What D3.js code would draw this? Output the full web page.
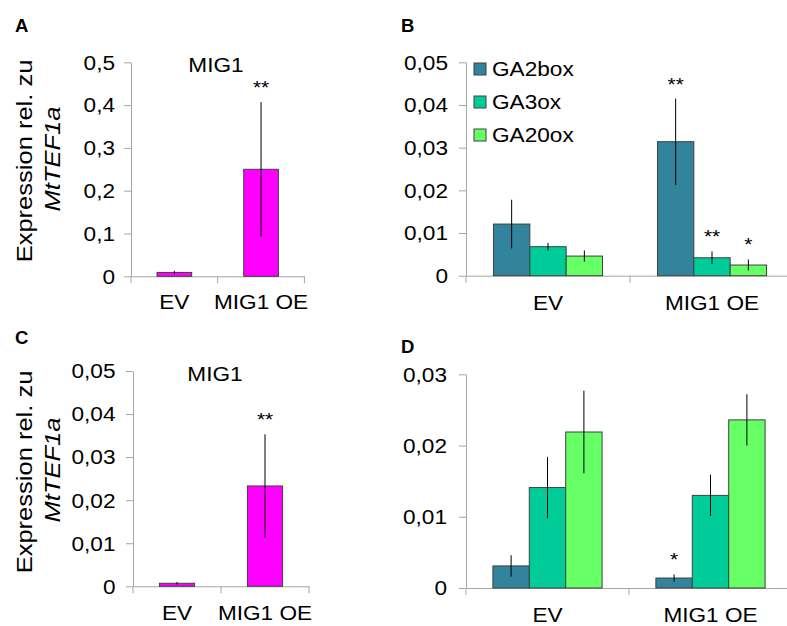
<!DOCTYPE html>
<html>
<head>
<meta charset="utf-8">
<script src="https://cdn.jsdelivr.net/npm/d3@7"></script>
<style>
  html, body { margin: 0; padding: 0; background: #fff; }
  svg { display: block; font-family: "Liberation Sans", Arial, sans-serif; }
</style>
</head>
<body>
<svg id="fig" width="787" height="626"></svg>
<script>
// ---- data ----
const categories = ["EV", "MIG1 OE"];
const series = ["GA2box", "GA3ox", "GA20ox"];
const seriesColors = ["#31849B", "#00CC99", "#66FF66"];
const mig1Color = "#FF00FF";

// A: MIG1 expression
const mig1A = [0.009, 0.25];
const mig1AErr = [0.004, 0.157];
const mig1ASig = ["", "**"];
const ticksA = [0, 0.1, 0.2, 0.3, 0.4, 0.5];
const tickLabelsA = ["0", "0,1", "0,2", "0,3", "0,4", "0,5"];

// B: GA genes
const ga2boxB = [0.0121, 0.0314];
const ga2boxBErr = [0.0057, 0.0101];
const ga2boxBSig = ["", "**"];
const ga3oxB = [0.0068, 0.0042];
const ga3oxBErr = [0.0009, 0.0015];
const ga3oxBSig = ["", "**"];
const ga20oxB = [0.0046, 0.0025];
const ga20oxBErr = [0.0013, 0.0013];
const ga20oxBSig = ["", "*"];
const ticksB = [0, 0.01, 0.02, 0.03, 0.04, 0.05];
const tickLabelsB = ["0", "0,01", "0,02", "0,03", "0,04", "0,05"];

// C: MIG1 expression
const mig1C = [0.0007, 0.0233];
const mig1CErr = [0.0003, 0.012];
const mig1CSig = ["", "**"];
const ticksC = [0, 0.01, 0.02, 0.03, 0.04, 0.05];
const tickLabelsC = ["0", "0,01", "0,02", "0,03", "0,04", "0,05"];

// D: GA genes
const ga2boxD = [0.0031, 0.0014];
const ga2boxDErr = [0.0015, 0.0005];
const ga2boxDSig = ["", "*"];
const ga3oxD = [0.0141, 0.0130];
const ga3oxDErr = [0.0043, 0.0029];
const ga3oxDSig = ["", ""];
const ga20oxD = [0.0219, 0.0236];
const ga20oxDErr = [0.0058, 0.0036];
const ga20oxDSig = ["", ""];
const ticksD = [0, 0.01, 0.02, 0.03];
const tickLabelsD = ["0", "0,01", "0,02", "0,03"];

// ---- drawing ----
const SX = 1.16;          // text widening along the reading direction
const FONT = 19.5;
const AXIS_COLOR = "#A6A6A6";
const svg = d3.select("#fig");

function stretched(sel, x, y) {
  return sel.attr("transform", `translate(${x},${y}) scale(${SX},1)`);
}

function drawPanel(cfg) {
  const g = svg.append("g");
  const y = d3.scaleLinear().domain([0, cfg.max]).range([cfg.yBottom, cfg.yTop]);
  const pad = 1 - cfg.groupFrac;
  const x = d3.scaleBand().domain(categories).range([cfg.xLeft, cfg.xRight])
    .paddingInner(pad).paddingOuter(pad / 2);
  const names = cfg.groups.map(d => d.name);
  const xi = d3.scaleBand().domain(names).range([0, x.bandwidth()]);

  // y axis
  const ya = g.append("g").attr("transform", `translate(${cfg.xLeft},0)`)
    .call(d3.axisLeft(y).tickValues(cfg.ticks)
      .tickFormat((d, i) => cfg.tickLabels[i]).tickSize(7).tickSizeOuter(0));
  ya.select(".domain").attr("stroke", AXIS_COLOR);
  ya.selectAll(".tick line").attr("stroke", AXIS_COLOR);
  ya.selectAll(".tick text").attr("x", 0).attr("dy", "0.35em")
    .attr("fill", "#000").attr("font-size", FONT)
    .attr("font-family", "Liberation Sans, Arial, sans-serif")
    .attr("transform", `translate(${-cfg.labelGap},0) scale(${SX},1)`);

  // x axis: line, boundary ticks, centred labels
  const xCat = d3.scaleBand().domain(categories).range([cfg.xLeft, cfg.xRight]);
  const xa = g.append("g").attr("transform", `translate(0,${cfg.yBottom})`)
    .call(d3.axisBottom(xCat).tickSize(0).tickSizeOuter(0));
  xa.select(".domain").attr("stroke", AXIS_COLOR);
  xa.selectAll(".tick text").attr("y", 0).attr("dy", 0)
    .attr("fill", "#000").attr("font-size", FONT)
    .attr("font-family", "Liberation Sans, Arial, sans-serif")
    .attr("transform", `translate(0,${cfg.catBaseline - cfg.yBottom}) scale(${SX},1)`);
  g.append("g").selectAll("line")
    .data(d3.range(categories.length + 1))
    .join("line")
    .attr("x1", i => cfg.xLeft + i * xCat.step())
    .attr("x2", i => cfg.xLeft + i * xCat.step())
    .attr("y1", cfg.yBottom).attr("y2", cfg.yBottom + 7)
    .attr("stroke", AXIS_COLOR);

  // bars, error bars, significance marks
  cfg.groups.forEach(s => {
    const cg = g.append("g");
    categories.forEach((c, i) => {
      const bx = x(c) + xi(s.name);
      const bw = xi.bandwidth();
      const v = s.values[i], e = s.errs[i];
      cg.append("rect")
        .attr("x", bx).attr("width", bw)
        .attr("y", y(v)).attr("height", y(0) - y(v))
        .attr("fill", s.color).attr("stroke", "#404040").attr("stroke-width", 1);
      cg.append("line")
        .attr("x1", bx + bw / 2).attr("x2", bx + bw / 2)
        .attr("y1", y(v + e)).attr("y2", y(Math.max(0, v - e)))
        .attr("stroke", "#000").attr("stroke-width", 1);
      if (s.sigs[i]) {
        stretched(cg.append("text"), bx + bw / 2, y(v + e) - 8)
          .attr("text-anchor", "middle").attr("font-size", 18)
          .attr("fill", "#000").text(s.sigs[i]);
      }
    });
  });

  // panel letter
  g.append("text").attr("x", cfg.letterX).attr("y", cfg.letterY)
    .attr("font-weight", "bold").attr("font-size", 18.5).attr("fill", "#000")
    .text(cfg.letter);

  if (cfg.title) {
    stretched(g.append("text"), cfg.titleX, cfg.titleY)
      .attr("text-anchor", "middle").attr("font-size", FONT).attr("fill", "#000")
      .text(cfg.title);
  }

  if (cfg.yTitle) {
    const t = g.append("g")
      .attr("transform", `translate(0,${cfg.yTitleCenter})`)
      .attr("font-size", 22).attr("fill", "#000");
    t.append("text").attr("transform", `translate(32,0) rotate(-90) scale(${SX},1)`)
      .attr("text-anchor", "middle").text("Expression rel. zu");
    t.append("text").attr("transform", `translate(60,-2) rotate(-90) scale(${SX},1)`)
      .attr("text-anchor", "middle").attr("font-style", "italic").text("MtTEF1a");
  }

  if (cfg.legend) {
    const lg = g.append("g");
    cfg.groups.forEach((s, i) => {
      const cy = cfg.legendY + i * cfg.legendStep;
      lg.append("rect").attr("x", cfg.legendX).attr("y", cy - 6)
        .attr("width", 12).attr("height", 12)
        .attr("fill", s.color).attr("stroke", "#404040");
      stretched(lg.append("text"), cfg.legendX + 18, cy + 7)
        .attr("font-size", FONT).attr("fill", "#000").text(s.name);
    });
  }
}

drawPanel({
  letter: "A", letterX: 15, letterY: 32,
  max: 0.5, ticks: ticksA, tickLabels: tickLabelsA,
  xLeft: 131, xRight: 304.4, yBottom: 276.3, yTop: 62.3, labelGap: 16,
  groupFrac: 0.4, catBaseline: 309,
  title: "MIG1", titleX: 216, titleY: 71.5,
  yTitle: true, yTitleCenter: 161,
  groups: [{ name: "MIG1", color: mig1Color, values: mig1A, errs: mig1AErr, sigs: mig1ASig }]
});

drawPanel({
  letter: "B", letterX: 401, letterY: 32,
  max: 0.05, ticks: ticksB, tickLabels: tickLabelsB,
  xLeft: 466, xRight: 794, yBottom: 275.7, yTop: 62.3, labelGap: 18,
  groupFrac: 0.665, catBaseline: 310,
  legend: true, legendX: 474, legendY: 69, legendStep: 33,
  groups: [
    { name: series[0], color: seriesColors[0], values: ga2boxB, errs: ga2boxBErr, sigs: ga2boxBSig },
    { name: series[1], color: seriesColors[1], values: ga3oxB, errs: ga3oxBErr, sigs: ga3oxBSig },
    { name: series[2], color: seriesColors[2], values: ga20oxB, errs: ga20oxBErr, sigs: ga20oxBSig }
  ]
});

drawPanel({
  letter: "C", letterX: 15, letterY: 343.5,
  max: 0.05, ticks: ticksC, tickLabels: tickLabelsC,
  xLeft: 133, xRight: 309, yBottom: 586.3, yTop: 371, labelGap: 17.5,
  groupFrac: 0.4, catBaseline: 620,
  title: "MIG1", titleX: 215, titleY: 380.7,
  yTitle: true, yTitleCenter: 472,
  groups: [{ name: "MIG1", color: mig1Color, values: mig1C, errs: mig1CErr, sigs: mig1CSig }]
});

drawPanel({
  letter: "D", letterX: 401, letterY: 352.7,
  max: 0.03, ticks: ticksD, tickLabels: tickLabelsD,
  xLeft: 466, xRight: 792, yBottom: 588, yTop: 374.3, labelGap: 19,
  groupFrac: 0.67, catBaseline: 622,
  groups: [
    { name: series[0], color: seriesColors[0], values: ga2boxD, errs: ga2boxDErr, sigs: ga2boxDSig },
    { name: series[1], color: seriesColors[1], values: ga3oxD, errs: ga3oxDErr, sigs: ga3oxDSig },
    { name: series[2], color: seriesColors[2], values: ga20oxD, errs: ga20oxDErr, sigs: ga20oxDSig }
  ]
});
</script>
</body>
</html>
